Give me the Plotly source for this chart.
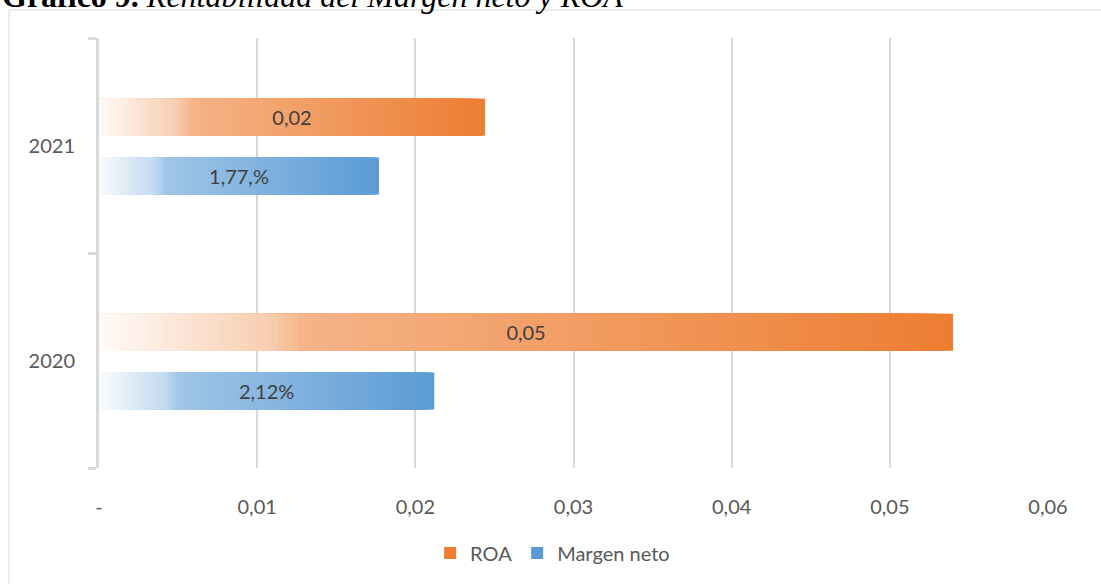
import plotly.graph_objects as go

# ── Data ────────────────────────────────────────────────────────────────────
YEARS = ["2020", "2021"]
ROA = [0.054, 0.0244]
MARGEN = [0.0212, 0.0177]
ROA_LABELS = ["0,05", "0,02"]
MARGEN_LABELS = ["2,12%", "1,77,%"]
X_TICKS = [0, 0.01, 0.02, 0.03, 0.04, 0.05, 0.06]
X_TICK_TEXT = ["-", "0,01", "0,02", "0,03", "0,04", "0,05", "0,06"]

# ── Style ───────────────────────────────────────────────────────────────────
ORANGE = (237, 125, 49)
BLUE = (91, 155, 213)
GRID = "#d9d9d9"
TEXT = "#595959"
FONT = "Lato"
STEPS = 120
BAR_W = 0.172


def _whiteness(t):
    """Excel-like gradient: near white at the base, full colour at the tip."""
    pts = [(0.0, 0.97), (0.2, 0.62), (0.24, 0.42), (1.0, 0.0)]
    for (t0, w0), (t1, w1) in zip(pts, pts[1:]):
        if t <= t1:
            return w0 + (w1 - w0) * (t - t0) / (t1 - t0)
    return 0.0


def _mix(rgb, w):
    r, g, b = (round(c + (255 - c) * w) for c in rgb)
    return f"rgb({r},{g},{b})"


def _gradient_bars(fig, values, labels, rgb, name, offset):
    """Stack of ever shorter, ever lighter bars to fake a gradient fill."""
    for k in range(STEPS, 0, -1):
        t = k / STEPS
        fig.add_trace(go.Bar(
            y=YEARS, x=[v * t for v in values], orientation="h",
            width=BAR_W, offset=offset,
            marker=dict(color=_mix(rgb, _whiteness((k - 0.5) / STEPS)), line=dict(width=0)),
            name=name, legendgroup=name, showlegend=(k == STEPS),
            hoverinfo="skip",
        ))
    # transparent full-length bar carrying the data label
    fig.add_trace(go.Bar(
        y=YEARS, x=values, orientation="h", width=BAR_W, offset=offset,
        marker=dict(color="rgba(0,0,0,0)", line=dict(width=0)),
        text=labels, textposition="inside", insidetextanchor="middle",
        textfont=dict(size=20, color="#404040", family=FONT),
        name=name, legendgroup=name, showlegend=False,
        hovertemplate=name + " %{y}: %{x}<extra></extra>",
    ))


fig = go.Figure()
_gradient_bars(fig, ROA, ROA_LABELS, ORANGE, "ROA", 0.045)
_gradient_bars(fig, MARGEN, MARGEN_LABELS, BLUE, "Margen neto", -0.228)

fig.update_layout(
    width=1101, height=584,
    margin=dict(l=99, r=53, t=38, b=116),
    paper_bgcolor="white", plot_bgcolor="white",
    barmode="overlay",
    font=dict(family=FONT, size=20, color=TEXT),
    separators=", ",
    uniformtext=dict(mode="show", minsize=10),
    legend=dict(
        orientation="h", x=0.478, xanchor="center", y=-0.243, yanchor="bottom",
        font=dict(size=20, color=TEXT), itemwidth=30, bgcolor="rgba(0,0,0,0)",
    ),
    xaxis=dict(
        range=[0, 0.06], tickvals=X_TICKS, ticktext=X_TICK_TEXT,
        showgrid=True, gridcolor=GRID, gridwidth=2, zeroline=False,
        showline=False, ticks="", ticklabelstandoff=25, automargin=False,
        tickfont=dict(size=20, color=TEXT),
    ),
    yaxis=dict(
        type="category", categoryorder="array", categoryarray=YEARS,
        range=[-0.5, 1.5], showgrid=False, zeroline=False,
        showline=True, linecolor=GRID, linewidth=3, automargin=False,
        ticks="outside", tickson="boundaries", ticklen=8, tickwidth=3, tickcolor=GRID,
        ticklabelstandoff=17, tickfont=dict(size=20, color=TEXT),
    ),
    shapes=[dict(
        type="rect", xref="paper", yref="paper",
        x0=-0.0948, x1=1.2, y0=-0.5, y1=1.0651,
        line=dict(color=GRID, width=1), fillcolor="rgba(0,0,0,0)", layer="below",
    )],
    annotations=[dict(
        text="<b>Gráfico 9.</b> <i>Rentabilidad del Margen neto y ROA</i>",
        xref="paper", yref="paper", x=-0.1043, y=1.052,
        xanchor="left", yanchor="bottom", showarrow=False,
        font=dict(family="Liberation Serif", size=32, color="black"),
    )],
)

# the page's default body margin would shift the chart by 8 px
fig.write_html("out.html", config={"displayModeBar": False},
               post_script="document.body.style.margin='0';")
